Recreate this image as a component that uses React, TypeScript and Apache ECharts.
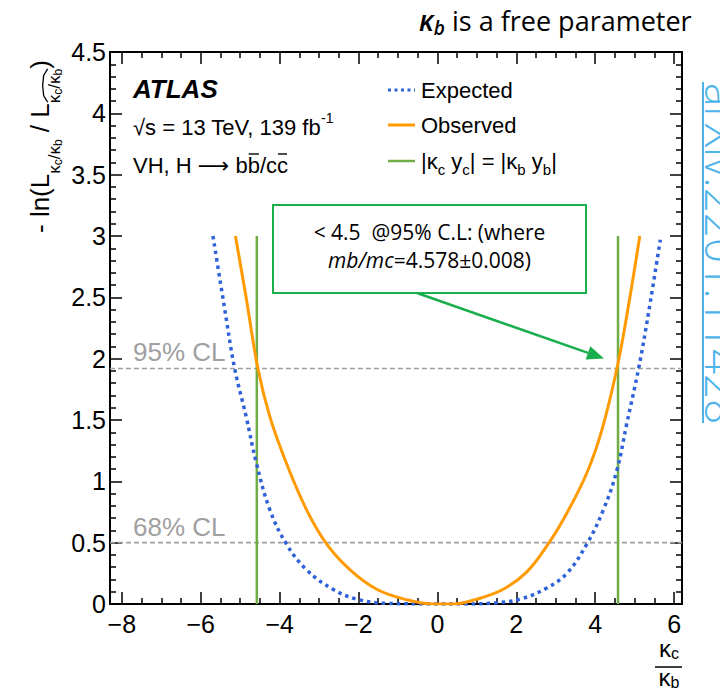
import React, { useEffect, useRef } from "react";
import * as echarts from "echarts";

// Axis extent and tick positions
const X_MIN = -8.3;
const X_MAX = 6.2;
const xTicks = [-8, -6, -4, -2, 0, 2, 4, 6];
const xMinorTicks = [
  -7.5, -7, -6.5, -5.5, -5, -4.5, -3.5, -3, -2.5, -1.5, -1, -0.5,
  0.5, 1, 1.5, 2.5, 3, 3.5, 4.5, 5, 5.5,
];
const Y_MIN = 0;
const Y_MAX = 4.5;
const Y_STEP = 0.5;

// Observed -ln(L) scan in kappa_c / kappa_b
const observedKappa = [
  -5.12, -4.85, -4.55, -4.25, -3.83, -3.32, -2.81, -2.22, -1.54, -0.78, -0.1,
  0.4, 1.0, 1.67, 2.26, 2.81, 3.28, 3.79, 4.17, 4.55, 4.8, 5.13,
];
const observedNLL = [
  3.0, 2.5, 1.92, 1.53, 1.15, 0.77, 0.49, 0.28, 0.12, 0.035, 0.0,
  0.0, 0.04, 0.12, 0.26, 0.49, 0.74, 1.07, 1.42, 1.92, 2.35, 3.0,
];

// Expected -ln(L) scan
const expectedKappa = [
  -5.69, -5.4, -5.14, -4.85, -4.59, -4.25, -3.83, -3.32, -2.65, -2.05, -1.29,
  0.0, 0.65, 1.5, 2.1, 2.77, 3.28, 3.79, 4.21, 4.55, 4.8, 5.1, 5.35, 5.65,
];
const expectedNLL = [
  3.0, 2.42, 1.92, 1.53, 1.15, 0.77, 0.49, 0.28, 0.12, 0.04, 0.005,
  0.0, 0.0, 0.01, 0.04, 0.13, 0.25, 0.49, 0.77, 1.09, 1.47, 1.92, 2.37, 2.97,
];

// |kc yc| = |kb yb| boundary: kappa_c/kappa_b = ±mb/mc
const massRatio = 4.578;
const boundaryTop = 3;

// Confidence-level reference lines
const clLevels = [0.5, 1.92];
const clLabels = ["68% CL", "95% CL"];

const HELV = "'Liberation Sans', Arial, Helvetica, sans-serif";
const OPEN = "'Open Sans', 'Noto Sans', sans-serif";

const C_BLUE = "#2f62d8";
const C_ORANGE = "#ff9a00";
const C_GREEN = "#70ad47";
const C_NOTE = "#1aae4c";
const C_GREY = "#a0a0a0";
const C_LINK = "#4db4ea";

type Seg = {
  t: string;
  size: number;
  dy?: number;
  italic?: boolean;
  weight?: string | number;
  over?: boolean;
  family?: string;
};

let measureCtx: CanvasRenderingContext2D | null = null;
function textWidth(s: Seg, family: string): number {
  if (!measureCtx) measureCtx = document.createElement("canvas").getContext("2d");
  if (!measureCtx) return s.t.length * s.size * 0.55;
  measureCtx.font = `${s.italic ? "italic" : "normal"} ${s.weight ?? "normal"} ${s.size}px ${s.family ?? family}`;
  return measureCtx.measureText(s.t).width;
}

// Lays out a run of differently styled text pieces (sub/superscripts etc.)
function richLine(
  segs: Seg[],
  x: number,
  y: number,
  opts: {
    family: string;
    fill: string;
    align?: "left" | "center" | "right";
    rotation?: number;
    hat?: [number, number];
  }
) {
  const widths = segs.map((s) => textWidth(s, opts.family));
  const total = widths.reduce((a, b) => a + b, 0);
  let cur = opts.align === "center" ? -total / 2 : opts.align === "right" ? -total : 0;
  const starts: number[] = [];
  const children: any[] = [];
  segs.forEach((s, i) => {
    starts.push(cur);
    const dy = s.dy ?? 0;
    children.push({
      type: "text",
      x: cur,
      y: dy,
      style: {
        text: s.t,
        fontSize: s.size,
        fontFamily: s.family ?? opts.family,
        fontStyle: s.italic ? "italic" : "normal",
        fontWeight: s.weight ?? "normal",
        fill: opts.fill,
        align: "left",
        verticalAlign: "middle",
        textAlign: "left",
        textVerticalAlign: "middle",
      },
    });
    if (s.over) {
      const oy = dy - s.size * 0.5;
      children.push({
        type: "line",
        shape: { x1: cur + 1, y1: oy, x2: cur + widths[i] - 1, y2: oy },
        style: { stroke: opts.fill, lineWidth: 1.4 },
      });
    }
    cur += widths[i];
  });
  if (opts.hat) {
    const [a, b] = opts.hat;
    const x1 = starts[a] + 1;
    const x2 = starts[b] + widths[b];
    const base = (segs[a].dy ?? 0) - segs[a].size * 0.55;
    const xm = (x1 + x2) / 2;
    children.push({
      type: "polyline",
      shape: {
        points: [
          [x1, base + 3],
          [x1 + (xm - x1) * 0.4, base - 1],
          [xm, base - 2],
          [x2 - (x2 - xm) * 0.4, base - 1],
          [x2, base + 3],
        ],
      },
      style: { stroke: opts.fill, lineWidth: 1.3, fill: null },
    });
  }
  return { type: "group", x, y, rotation: opts.rotation ?? 0, silent: true, children };
}

const zip = (xs: number[], ys: number[]) => xs.map((x, i) => [x, ys[i]]);

const minusFmt = (v: number) => (v < 0 ? "\u2212" + Math.abs(v) : String(v));

function xAxisDef(position: "top" | "bottom", major: boolean) {
  return {
    type: "value",
    min: X_MIN,
    max: X_MAX,
    position,
    offset: 0,
    axisLine: { show: major, onZero: false, lineStyle: { color: "#000", width: 2 } },
    axisTick: {
      show: true,
      inside: true,
      length: major ? 12 : 6,
      customValues: major ? xTicks : xMinorTicks,
      lineStyle: { color: "#000", width: 1.5 },
    },
    axisLabel: {
      show: major && position === "bottom",
      customValues: xTicks,
      formatter: minusFmt,
      fontSize: 25,
      fontFamily: HELV,
      color: "#000",
      margin: 7,
    },
    splitLine: { show: false },
  };
}

function yAxisDef(position: "left" | "right") {
  return {
    type: "value",
    min: Y_MIN,
    max: Y_MAX,
    interval: Y_STEP,
    position,
    offset: 0,
    axisLine: { show: true, onZero: false, lineStyle: { color: "#000", width: 2 } },
    axisTick: { show: true, inside: true, length: 12, lineStyle: { color: "#000", width: 1.5 } },
    minorTick: { show: true, splitNumber: 5, length: 6, lineStyle: { color: "#000", width: 1.5 } },
    axisLabel: {
      show: position === "left",
      fontSize: 25,
      fontFamily: HELV,
      color: "#000",
      margin: 4,
    },
    splitLine: { show: false },
    minorSplitLine: { show: false },
  };
}

export default function App() {
  const ref = useRef<HTMLDivElement>(null);

  useEffect(() => {
    document.body.style.margin = "0";
    if (!ref.current) return;
    const chart = echarts.init(ref.current, null, { renderer: "svg" });

    const series: any[] = [
      ...clLevels.map((lvl) => ({
        type: "line",
        data: [
          [X_MIN, lvl],
          [X_MAX, lvl],
        ],
        symbol: "none",
        silent: true,
        z: 2,
        lineStyle: { color: C_GREY, width: 1.6, type: [5, 3] },
      })),
      ...[-massRatio, massRatio].map((r) => ({
        type: "line",
        name: "|κc yc| = |κb yb|",
        data: [
          [r, 0],
          [r, boundaryTop],
        ],
        symbol: "none",
        silent: true,
        z: 3,
        lineStyle: { color: C_GREEN, width: 2.5 },
      })),
      {
        type: "line",
        name: "Expected",
        data: zip(expectedKappa, expectedNLL),
        symbol: "none",
        smooth: 0.4,
        silent: true,
        z: 4,
        lineStyle: { color: C_BLUE, width: 3.5, type: [3.5, 4], cap: "butt" },
      },
      {
        type: "line",
        name: "Observed",
        data: zip(observedKappa, observedNLL),
        symbol: "none",
        smooth: 0.4,
        silent: true,
        z: 5,
        lineStyle: { color: C_ORANGE, width: 3 },
      },
    ];

    chart.setOption({
      animation: false,
      backgroundColor: "#ffffff",
      grid: { left: 110, right: 38, top: 52, bottom: 87 },
      xAxis: [
        xAxisDef("bottom", true),
        xAxisDef("bottom", false),
        xAxisDef("top", true),
        xAxisDef("top", false),
      ],
      yAxis: [yAxisDef("left"), yAxisDef("right")],
      series,
    });

    const px = (x: number, y: number) =>
      chart.convertToPixel({ gridIndex: 0 }, [x, y]) as number[];

    const graphics: any[] = [];

    // CL level captions
    clLevels.forEach((lvl, i) => {
      const p = px(X_MIN, lvl);
      graphics.push({
        type: "text",
        x: p[0] + 23,
        y: p[1] - 16,
        silent: true,
        style: {
          text: clLabels[i],
          fontSize: 26,
          fontFamily: HELV,
          fill: C_GREY,
          align: "left",
          verticalAlign: "middle",
          textAlign: "left",
          textVerticalAlign: "middle",
        },
      });
    });

    // Experiment labels
    graphics.push(
      richLine([{ t: "ATLAS", size: 26, italic: true, weight: "bold" }], 133, 89, {
        family: HELV,
        fill: "#000",
      })
    );
    graphics.push(
      richLine(
        [
          { t: "\u221As = 13 TeV, 139 fb", size: 22 },
          { t: "-1", size: 14, dy: -9 },
        ],
        133,
        127,
        { family: HELV, fill: "#000" }
      )
    );
    graphics.push(
      richLine(
        [
          { t: "VH, H ", size: 22 },
          { t: "\u27F6", size: 22, family: "'DejaVu Sans', sans-serif" },
          { t: " b", size: 22 },
          { t: "b", size: 22, over: true },
          { t: "/c", size: 22 },
          { t: "c", size: 22, over: true },
        ],
        133,
        165,
        { family: HELV, fill: "#000" }
      )
    );

    // Legend
    const legendX0 = 388;
    const legendX1 = 415;
    const legendTextX = 421;
    graphics.push({
      type: "line",
      silent: true,
      shape: { x1: legendX0, y1: 90, x2: legendX1, y2: 90 },
      style: { stroke: C_BLUE, lineWidth: 3, lineDash: [3, 3.5] },
    });
    graphics.push({
      type: "line",
      silent: true,
      shape: { x1: legendX0, y1: 125, x2: legendX1, y2: 125 },
      style: { stroke: C_ORANGE, lineWidth: 3 },
    });
    graphics.push({
      type: "line",
      silent: true,
      shape: { x1: legendX0, y1: 161, x2: legendX1, y2: 161 },
      style: { stroke: C_GREEN, lineWidth: 2.5 },
    });
    graphics.push(
      richLine([{ t: "Expected", size: 22 }], legendTextX, 90, { family: HELV, fill: "#000" })
    );
    graphics.push(
      richLine([{ t: "Observed", size: 22 }], legendTextX, 125, { family: HELV, fill: "#000" })
    );
    graphics.push(
      richLine(
        [
          { t: "|\u03BA", size: 22 },
          { t: "c", size: 15, dy: 8 },
          { t: " y", size: 22 },
          { t: "c", size: 15, dy: 8 },
          { t: "| = |\u03BA", size: 22 },
          { t: "b", size: 15, dy: 8 },
          { t: " y", size: 22 },
          { t: "b", size: 15, dy: 8 },
          { t: "|", size: 22 },
        ],
        legendTextX,
        161,
        { family: HELV, fill: "#000" }
      )
    );

    // Y axis title (reads bottom to top)
    graphics.push(
      richLine(
        [
          { t: "- ln(L", size: 26 },
          { t: "\u03BA", size: 17, dy: 14 },
          { t: "c", size: 12, dy: 18 },
          { t: "/\u03BA", size: 17, dy: 14 },
          { t: "b", size: 12, dy: 18 },
          { t: " / L", size: 26 },
          { t: "\u03BA", size: 17, dy: 14 },
          { t: "c", size: 12, dy: 18 },
          { t: "/\u03BA", size: 17, dy: 14 },
          { t: "b", size: 12, dy: 18 },
          { t: ")", size: 26 },
        ],
        40,
        233,
        { family: HELV, fill: "#000", rotation: Math.PI / 2, hat: [6, 9] }
      )
    );

    // X axis title: kappa_c / kappa_b as a fraction
    graphics.push(
      richLine(
        [
          { t: "\u03BA", size: 24 },
          { t: "c", size: 16, dy: 5 },
        ],
        669,
        648,
        { family: HELV, fill: "#000", align: "center" }
      )
    );
    graphics.push({
      type: "line",
      silent: true,
      shape: { x1: 655, y1: 667, x2: 682, y2: 667 },
      style: { stroke: "#000", lineWidth: 1.5 },
    });
    graphics.push(
      richLine(
        [
          { t: "\u03BA", size: 24 },
          { t: "b", size: 16, dy: 5 },
        ],
        669,
        677,
        { family: HELV, fill: "#000", align: "center" }
      )
    );

    // Heading
    graphics.push(
      richLine(
        [
          { t: "\u03BA", size: 28, italic: true, weight: 600 },
          { t: "b", size: 19, italic: true, weight: 600, dy: 8 },
          { t: " is a free parameter", size: 27 },
        ],
        419,
        20,
        { family: OPEN, fill: "#000" }
      )
    );

    // Note box with arrow to the 95% CL crossing
    const boxX = 273;
    const boxY = 205;
    const boxW = 313;
    const boxH = 88;
    graphics.push({
      type: "rect",
      silent: true,
      shape: { x: boxX, y: boxY, width: boxW, height: boxH },
      style: { fill: "#fff", stroke: C_NOTE, lineWidth: 2 },
    });
    graphics.push(
      richLine([{ t: "< 4.5  @95% C.L: (where", size: 21 }], boxX + boxW / 2, 232, {
        family: OPEN,
        fill: "#000",
        align: "center",
      })
    );
    graphics.push(
      richLine(
        [
          { t: "mb/mc", size: 21, italic: true },
          { t: "=4.578\u00B10.008)", size: 21 },
        ],
        boxX + boxW / 2,
        260,
        { family: OPEN, fill: "#000", align: "center" }
      )
    );

    const cross = px(massRatio, clLevels[1]);
    const tip = [cross[0] - 14, cross[1] - 10];
    const tail = [417, boxY + boxH];
    const dx = tip[0] - tail[0];
    const dy = tip[1] - tail[1];
    const len = Math.hypot(dx, dy);
    const ux = dx / len;
    const uy = dy / len;
    const headL = 17;
    const headW = 7;
    const bx = tip[0] - ux * headL;
    const by = tip[1] - uy * headL;
    graphics.push({
      type: "line",
      silent: true,
      shape: { x1: tail[0], y1: tail[1], x2: bx, y2: by },
      style: { stroke: C_NOTE, lineWidth: 2.5 },
    });
    graphics.push({
      type: "polygon",
      silent: true,
      shape: {
        points: [
          [tip[0], tip[1]],
          [bx - uy * headW, by + ux * headW],
          [bx + uy * headW, by - ux * headW],
        ],
      },
      style: { fill: C_NOTE },
    });

    // Vertical reference link running off the right edge
    graphics.push({
      type: "text",
      silent: true,
      x: 722,
      y: 83,
      rotation: -Math.PI / 2,
      style: {
        text: "arXiv:2201.11428",
        fontSize: 44,
        fontFamily: OPEN,
        fontWeight: 300,
        fill: C_LINK,
        align: "left",
        verticalAlign: "middle",
        textAlign: "left",
        textVerticalAlign: "middle",
      },
    });
    graphics.push({
      type: "line",
      silent: true,
      shape: { x1: 703, y1: 82, x2: 703, y2: 423 },
      style: { stroke: C_LINK, lineWidth: 2 },
    });

    chart.setOption({ graphic: graphics });

    return () => chart.dispose();
  }, []);

  return <div ref={ref} style={{ width: 720, height: 691 }} />;
}
